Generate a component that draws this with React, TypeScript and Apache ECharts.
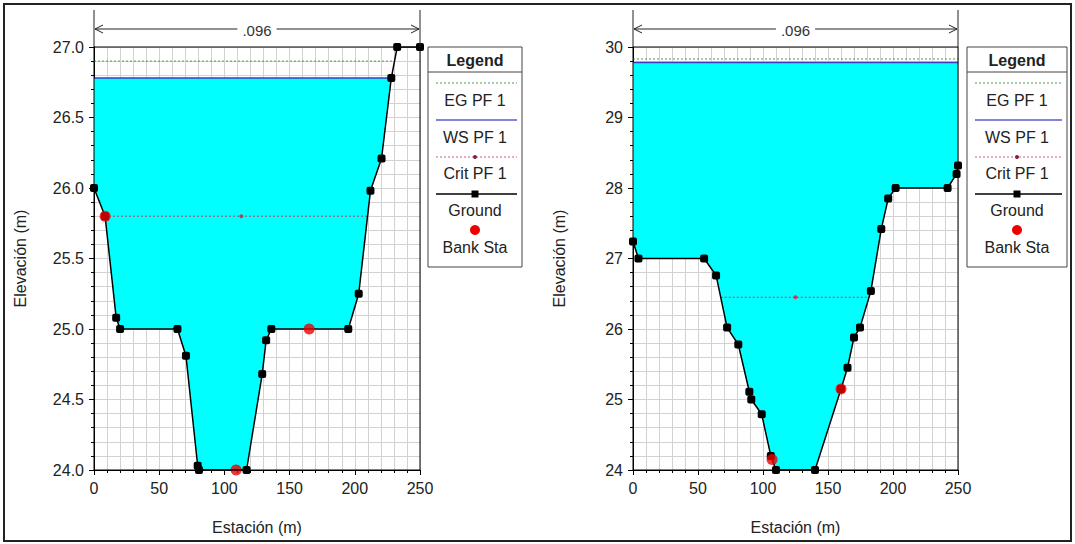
import React, { useEffect, useRef } from "react";
import * as echarts from "echarts";

// ---------- DATA ----------
const stationTicks = [0, 50, 100, 150, 200, 250];
const dimensionLabel = ".096";

// Left cross-section
const leftGround: number[][] = [
  [0, 26.0], [8.5, 25.8], [17, 25.08], [20, 25.0], [64, 25.0], [70.5, 24.81],
  [79.5, 24.03], [80.5, 24.0], [117, 24.0], [129, 24.68], [132, 24.92], [136, 25.0],
  [195, 25.0], [203, 25.25], [212, 25.98], [220.5, 26.21], [228, 26.78], [232.5, 27.0], [250, 27.0],
];
const leftBank: number[][] = [[8.5, 25.8], [109, 24.0], [165, 25.0]];
const leftWS = 26.78;
const leftEG = 26.9;
const leftEGStations = [0, 230];
const leftCrit = 25.8;
const leftCritStations = [8.5, 113, 210];

// Right cross-section
const rightGround: number[][] = [
  [0, 27.24], [4.2, 27.0], [54.7, 27.0], [63.9, 26.76], [72.4, 26.02], [81, 25.78],
  [89.5, 25.11], [91, 25.0], [99, 24.79], [106, 24.2], [110, 24.0], [140, 24.0],
  [160, 25.15], [165, 25.45], [170, 25.88], [174.6, 26.02], [183, 26.54], [191, 27.42],
  [196.3, 27.85], [202, 28.0], [242, 28.0], [248.9, 28.2], [250, 28.32],
];
const rightBank: number[][] = [[107, 24.15], [160, 25.15]];
const rightWS = 29.78;
const rightEG = 29.83;
const rightEGStations = [0, 250];
const rightCrit = 26.45;
const rightCritStations = [67.5, 125, 181.5];

const legendItems = ["EG PF 1", "WS PF 1", "Crit PF 1", "Ground", "Bank Sta"];

// ---------- STYLE ----------
const FONT = "'Liberation Sans', Arial, sans-serif";
const GRID_COLOR = "#d2d2d2";
const WATER = "#00ffff";
const EG_COLOR = "#4f9a4f";
const WS_COLOR = "#3c3cc0";
const CRIT_COLOR = "#b8405a";
const TEXT = "#222";

const PLOT_TOP = 47;
const PLOT_BOTTOM = 470;
const panels = [
  { left: 94, right: 420, legendX: 428, legendW: 94 },
  { left: 633, right: 958, legendX: 967, legendW: 100 },
];

function waterPolygon(ground: number[][], ws: number): number[][] {
  const pts: number[][] = [];
  for (let i = 0; i < ground.length; i++) {
    const [x, y] = ground[i];
    if (i > 0) {
      const [px, py] = ground[i - 1];
      if ((py < ws && y > ws) || (py > ws && y < ws)) {
        const t = (ws - py) / (y - py);
        pts.push([px + t * (x - px), ws]);
      }
    }
    if (y <= ws) pts.push([x, y]);
  }
  return [[pts[0][0], ws], ...pts, [pts[pts.length - 1][0], ws]];
}

function xAxisCfg(gridIndex: number) {
  return {
    type: "value", gridIndex, min: stationTicks[0], max: stationTicks[stationTicks.length - 1],
    interval: stationTicks[1] - stationTicks[0],
    name: "Estación (m)", nameLocation: "middle", nameGap: 49,
    nameTextStyle: { fontSize: 16, color: TEXT, fontFamily: FONT },
    axisLine: { show: true, onZero: false, lineStyle: { color: "#000", width: 1 } },
    axisTick: { show: true, length: 5, lineStyle: { color: "#000" } },
    minorTick: { show: true, splitNumber: 5, length: 3, lineStyle: { color: "#000" } },
    axisLabel: { fontSize: 16, color: TEXT, margin: 10, fontFamily: FONT },
    splitLine: { show: true, lineStyle: { color: GRID_COLOR, width: 1 } },
    minorSplitLine: { show: true, lineStyle: { color: GRID_COLOR, width: 1 } },
  };
}

function yAxisCfg(gridIndex: number, min: number, max: number, interval: number, decimals: number) {
  return {
    type: "value", gridIndex, min, max, interval,
    name: "Elevación (m)", nameLocation: "middle", nameGap: 66, nameRotate: 90,
    nameTextStyle: { fontSize: 16, color: TEXT, fontFamily: FONT },
    axisLine: { show: true, onZero: false, lineStyle: { color: "#000", width: 1 } },
    axisTick: { show: true, length: 5, lineStyle: { color: "#000" } },
    minorTick: { show: true, splitNumber: 5, length: 3, lineStyle: { color: "#000" } },
    axisLabel: {
      fontSize: 16, color: TEXT, margin: 10, fontFamily: FONT,
      formatter: (v: number) => v.toFixed(decimals),
    },
    splitLine: { show: true, lineStyle: { color: GRID_COLOR, width: 1 } },
    minorSplitLine: { show: true, lineStyle: { color: GRID_COLOR, width: 1 } },
  };
}

function panelSeries(idx: number, ground: number[][], bank: number[][], ws: number,
  eg: number, egSt: number[], crit: number, critSt: number[]) {
  const poly = waterPolygon(ground, ws);
  const wsStart = poly[0][0];
  const wsEnd = poly[poly.length - 1][0];
  return [
    {
      type: "custom", xAxisIndex: idx, yAxisIndex: idx, z: 1, silent: true,
      data: [[poly[0][0], ws]], encode: { x: 0, y: 1 },
      renderItem: (_p: any, api: any) => ({
        type: "polygon",
        shape: { points: poly.map((p) => api.coord(p)) },
        style: { fill: WATER, stroke: null },
      }),
    },
    {
      type: "line", xAxisIndex: idx, yAxisIndex: idx, z: 2, symbol: "none", silent: true,
      data: egSt.map((s) => [s, eg]),
      lineStyle: { color: EG_COLOR, width: 1, type: [2, 2] },
    },
    {
      type: "line", xAxisIndex: idx, yAxisIndex: idx, z: 2, symbol: "none", silent: true,
      data: [[wsStart, ws], [wsEnd, ws]],
      lineStyle: { color: WS_COLOR, width: 1.5 },
    },
    {
      type: "line", xAxisIndex: idx, yAxisIndex: idx, z: 3, silent: true,
      symbol: "circle",
      data: critSt.map((s, i) => ({ value: [s, crit], symbolSize: i === 1 ? 4 : 0 })),
      itemStyle: { color: CRIT_COLOR },
      lineStyle: { color: CRIT_COLOR, width: 1, type: [2, 2] },
    },
    {
      type: "line", xAxisIndex: idx, yAxisIndex: idx, z: 4, silent: true,
      data: ground, symbol: "roundRect", symbolSize: 8, showAllSymbol: true,
      itemStyle: { color: "#000" },
      lineStyle: { color: "#000", width: 1.5 },
    },
    {
      type: "scatter", xAxisIndex: idx, yAxisIndex: idx, z: 5, silent: true,
      data: bank, symbol: "circle", symbolSize: 11,
      itemStyle: { color: "#ee0000" },
    },
  ];
}

function dimensionGraphics(left: number, right: number) {
  const y = 29;
  const ls = { stroke: "#222", lineWidth: 1 };
  return [
    { type: "line", z: 100, shape: { x1: left, y1: 10, x2: left, y2: PLOT_TOP }, style: ls },
    { type: "line", z: 100, shape: { x1: right, y1: 10, x2: right, y2: PLOT_TOP }, style: ls },
    { type: "line", z: 100, shape: { x1: left + 1, y1: y, x2: right - 1, y2: y }, style: ls },
    { type: "polyline", z: 100, shape: { points: [[left + 9, y - 4], [left + 1, y], [left + 9, y + 4]] }, style: { ...ls, fill: null } },
    { type: "polyline", z: 100, shape: { points: [[right - 9, y - 4], [right - 1, y], [right - 9, y + 4]] }, style: { ...ls, fill: null } },
    {
      type: "text", z: 101, x: (left + right) / 2, y: y + 1,
      style: {
        text: dimensionLabel, font: `15px ${FONT}`, fill: "#333", align: "center", verticalAlign: "middle",
        backgroundColor: "#fff", padding: [0, 5],
      },
    },
    {
      type: "rect", z: 100,
      shape: { x: left, y: PLOT_TOP, width: right - left, height: PLOT_BOTTOM - PLOT_TOP },
      style: { stroke: "#000", lineWidth: 1, fill: null },
    },
  ];
}

function legendGraphics(x: number, w: number) {
  const top = 47;
  const h = 220;
  const l1 = x + 8;
  const l2 = x + w - 5;
  const cx = x + w / 2;
  const els: any[] = [
    { type: "rect", z: 100, shape: { x, y: top, width: w, height: h }, style: { fill: "#fff", stroke: "#444", lineWidth: 1 } },
    { type: "line", z: 101, shape: { x1: x, y1: 72, x2: x + w, y2: 72 }, style: { stroke: "#444", lineWidth: 1 } },
    { type: "text", z: 101, x: cx, y: 60, style: { text: "Legend", font: `bold 16px ${FONT}`, fill: TEXT, align: "center", verticalAlign: "middle" } },
  ];
  const lineYs = [83, 120, 157, 194, 230];
  const textYs = [100, 137, 173, 210, 247];
  els.push({ type: "line", z: 101, shape: { x1: l1, y1: lineYs[0], x2: l2, y2: lineYs[0] }, style: { stroke: EG_COLOR, lineWidth: 1, lineDash: [2, 2] } });
  els.push({ type: "line", z: 101, shape: { x1: l1, y1: lineYs[1], x2: l2, y2: lineYs[1] }, style: { stroke: "#5a5ad0", lineWidth: 1.5 } });
  els.push({ type: "line", z: 101, shape: { x1: l1, y1: lineYs[2], x2: l2, y2: lineYs[2] }, style: { stroke: "#d06070", lineWidth: 1, lineDash: [2, 2] } });
  els.push({ type: "circle", z: 102, shape: { cx, cy: lineYs[2], r: 2 }, style: { fill: "#8a2040" } });
  els.push({ type: "line", z: 101, shape: { x1: l1, y1: lineYs[3], x2: l2, y2: lineYs[3] }, style: { stroke: "#000", lineWidth: 1.5 } });
  els.push({ type: "rect", z: 102, shape: { x: cx - 3.5, y: lineYs[3] - 3.5, width: 7, height: 7 }, style: { fill: "#000" } });
  els.push({ type: "circle", z: 102, shape: { cx, cy: lineYs[4], r: 5 }, style: { fill: "#ee0000" } });
  legendItems.forEach((t, i) => {
    els.push({ type: "text", z: 101, x: cx, y: textYs[i], style: { text: t, font: `16px ${FONT}`, fill: TEXT, align: "center", verticalAlign: "middle" } });
  });
  return els;
}

export default function App() {
  const ref = useRef<HTMLDivElement>(null);
  useEffect(() => {
    if (!ref.current) return;
    const chart = echarts.init(ref.current, null, { renderer: "svg" });
    const option: any = {
      animation: false,
      backgroundColor: "#fff",
      textStyle: { fontFamily: FONT },
      grid: panels.map((p) => ({
        left: p.left, width: p.right - p.left, top: PLOT_TOP, height: PLOT_BOTTOM - PLOT_TOP,
        containLabel: false,
      })),
      xAxis: [xAxisCfg(0), xAxisCfg(1)],
      yAxis: [yAxisCfg(0, 24, 27, 0.5, 1), yAxisCfg(1, 24, 30, 1, 0)],
      series: [
        ...panelSeries(0, leftGround, leftBank, leftWS, leftEG, leftEGStations, leftCrit, leftCritStations),
        ...panelSeries(1, rightGround, rightBank, rightWS, rightEG, rightEGStations, rightCrit, rightCritStations),
      ],
      graphic: [
        {
          type: "rect", z: 100, shape: { x: 4, y: 4, width: 1067, height: 537 },
          style: { stroke: "#222", lineWidth: 2, fill: null },
        },
        ...dimensionGraphics(panels[0].left, panels[0].right),
        ...dimensionGraphics(panels[1].left, panels[1].right),
        ...legendGraphics(panels[0].legendX, panels[0].legendW),
        ...legendGraphics(panels[1].legendX, panels[1].legendW),
      ],
    };
    chart.setOption(option);
    return () => chart.dispose();
  }, []);
  return (
    <div
      ref={ref}
      style={{ position: "absolute", left: 0, top: 0, width: 1075, height: 544, background: "#fff" }}
    />
  );
}
